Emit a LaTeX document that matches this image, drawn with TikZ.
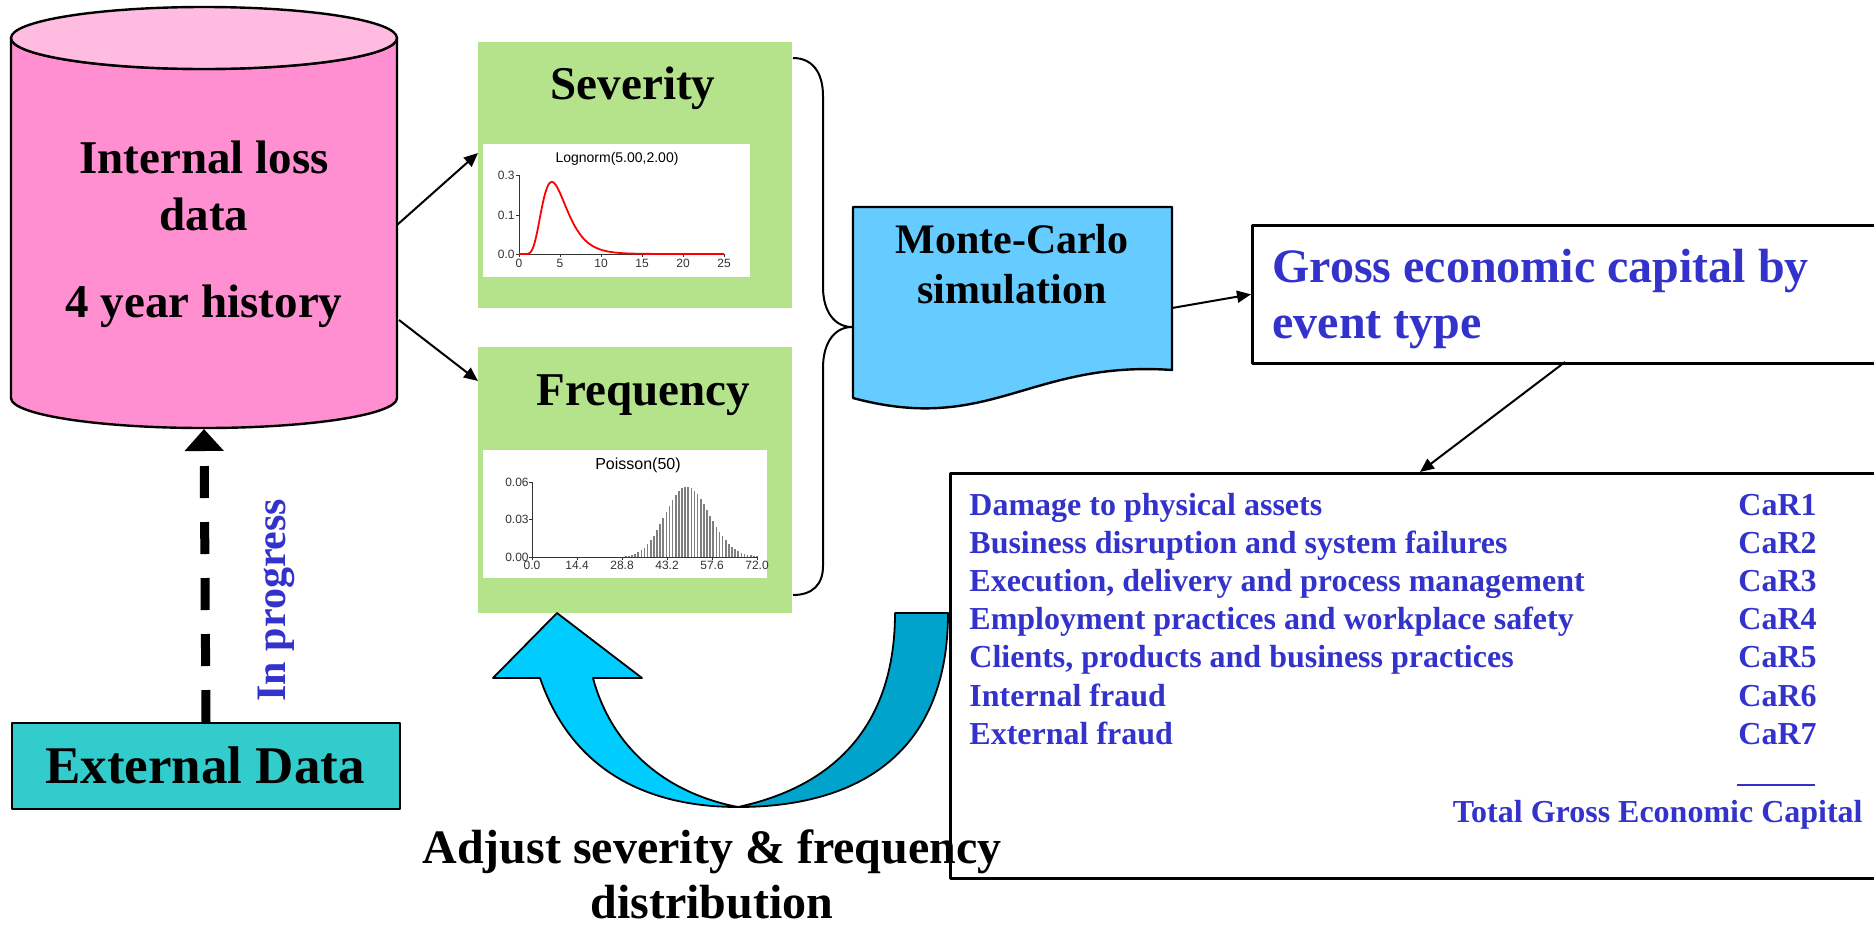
\documentclass[tikz,border=0pt]{standalone}
\usepackage{fontspec}
\setmainfont{Liberation Serif}
\newfontfamily\chartfont{Liberation Sans}
\usetikzlibrary{arrows.meta}

\definecolor{cylbody}{HTML}{FF8FD0}
\definecolor{cyltop}{HTML}{FFBCE0}
\definecolor{distgreen}{HTML}{B4E38C}
\definecolor{mcblue}{HTML}{66CCFF}
\definecolor{extteal}{HTML}{33CCCC}
\definecolor{eventblue}{HTML}{3333CC}
\definecolor{turnlight}{HTML}{00CCFF}
\definecolor{turndark}{HTML}{00A3CC}
\definecolor{bargray}{HTML}{7F7F7F}
\definecolor{axisgray}{HTML}{333333}

% bold serif at a given size (pt)
\newcommand\bfat[1]{\fontsize{#1}{#1}\selectfont\bfseries}
% small sans for the chart annotations
\newcommand\chartat[1]{\chartfont\fontsize{#1}{#1}\selectfont}

\tikzset{
  lbl/.style={inner sep=0pt, anchor=base},
  lblw/.style={inner sep=0pt, anchor=base west},
  lble/.style={inner sep=0pt, anchor=base east},
  connector/.style={line width=1pt, -{Triangle[length=7pt,width=6pt]}},
  bracepath/.style={line width=1pt},
  greenbox/.style={fill=distgreen, inner sep=0pt, anchor=north west,
                   minimum width=157pt, minimum height=133pt},
  chartbg/.style={fill=white, inner sep=0pt, anchor=north west},
  chartaxis/.style={axisgray, line width=0.5pt},
  ticklbl/.style={inner sep=0pt, text=axisgray, font=\chartat{6}},
  eventrow/.style={lblw, text=eventblue, font=\bfat{16}},
  carrow/.style={lblw, text=eventblue, font=\bfat{16}},
  poissonbar/.style={bargray, line width=0.8pt},
}

\begin{document}
\begin{tikzpicture}[x=0.5pt, y=-0.5pt, line join=round]
\useasboundingbox (0,0) rectangle (1874,927);

% ---------- internal loss data cylinder ----------
\draw[fill=cylbody, line width=1.2pt]
  (11,38) -- (11,398) arc[start angle=180, end angle=0, x radius=193, y radius=30]
  -- (397,38) arc[start angle=0, end angle=180, x radius=193, y radius=31] -- cycle;
\draw[fill=cyltop, line width=1.2pt] (204,38) ellipse[x radius=193, y radius=31];
\node[lbl, font=\bfat{23.5}] (cyl1) at (204,173) {Internal loss};
\node[lbl, font=\bfat{23.5}] (cyl2) at (204,230) {data};
\node[lbl, font=\bfat{23.5}] (cyl3) at (204,317) {4 year history};
\coordinate (cylOut1) at (397,225);
\coordinate (cylOut2) at (399,320);
\coordinate (cylBase) at (204,429);

% ---------- severity and frequency panels ----------
\node[greenbox] (sev) at (478,42) {};
\node[greenbox] (freq) at (478,347) {};
\node[lbl, font=\bfat{23.5}] (sevlabel) at (633,99) {Severity};
\node[lbl, font=\bfat{23.5}] (freqlabel) at (643,405) {Frequency};
\coordinate (sevIn) at (478,153);
\coordinate (freqIn) at (478,381);

% lognormal chart
\node[chartbg, minimum width=133.5pt, minimum height=66.5pt] (sevchart) at (483,144) {};
\node[lbl, font=\chartat{7}] (sevtitle) at (617,162) {Lognorm(5.00,2.00)};
\draw[chartaxis] (519,175) -- (519,254) -- (725,254);
\foreach \v/\yy in {0.3/175, 0.1/215, 0.0/254}{
  \draw[chartaxis] (516,\yy) -- (519,\yy);
  \node[ticklbl, anchor=base east] at (515,\yy+4) {\v};
}
\foreach \i in {0,...,5}{
  \draw[chartaxis] ({519+41*\i},254) -- ({519+41*\i},257);
  \pgfmathtruncatemacro\lab{5*\i}
  \node[ticklbl, anchor=base] at ({519+41*\i},267) {\lab};
}
\draw[red, line width=0.9pt] (519,254) -- (527,254)
  -- plot[domain=1:25, samples=140, smooth]
     ({519+8.2*\x}, {254-300*exp(-(ln(\x)-1.53523)^2/0.29684)/(\x*0.96570)});

% Poisson chart
\node[chartbg, minimum width=142pt, minimum height=64pt] (freqchart) at (483,450) {};
\node[lbl, font=\chartat{8}] (freqtitle) at (638,469) {Poisson(50)};
\def\pk{0.056325}
\foreach \k in {50,49,...,24}{
  \draw[poissonbar] ({532+3.125*\k},557) -- ({532+3.125*\k},{557-1250*\pk});
  \pgfmathsetmacro\pnew{\pk*\k/50}
  \xdef\pk{\pnew}
}
\def\pk{0.056325}
\foreach \k in {51,...,72}{
  \pgfmathsetmacro\pnew{\pk*50/\k}
  \xdef\pk{\pnew}
  \draw[poissonbar] ({532+3.125*\k},557) -- ({532+3.125*\k},{557-1250*\pk});
}
\draw[chartaxis] (532,482) -- (532,557) -- (757,557);
\foreach \v/\yy in {0.06/482, 0.03/519.5, 0.00/557}{
  \draw[chartaxis] (529,\yy) -- (532,\yy);
  \node[ticklbl, anchor=base east] at (529,\yy+4) {\v};
}
\foreach \v [count=\i from 0] in {0.0,14.4,28.8,43.2,57.6,72.0}{
  \draw[chartaxis] ({532+45*\i},557) -- ({532+45*\i},560);
  \node[ticklbl, anchor=base] at ({532+45*\i},569) {\v};
}

% arrows from the loss data to both distributions
\draw[connector] (cylOut1) -- (sevIn);
\draw[connector] (cylOut2) -- (freqIn);

% ---------- brace joining the two panels ----------
\coordinate (braceTop) at (793,58);
\coordinate (braceTip) at (852,327);
\coordinate (braceBot) at (793,595);
\draw[bracepath] (braceTop) .. controls (812,58) and (823,72) .. (823,96)
  -- (823,287) .. controls (823,312) and (835,327) .. (braceTip)
  .. controls (835,327) and (823,342) .. (823,368)
  -- (823,566) .. controls (823,585) and (812,595) .. (braceBot);

% ---------- Monte-Carlo simulation document ----------
\draw[fill=mcblue, line width=1.2pt]
  (853,207) -- (1172,207) -- (1172,370)
  .. controls (1030,360) and (990,435) .. (853,398) -- cycle;
\node[lbl, font=\bfat{21}] (mc1) at (1012,253) {Monte-Carlo};
\node[lbl, font=\bfat{21}] (mc2) at (1012,303) {simulation};
\coordinate (mcOut) at (1172,308);

% ---------- gross economic capital ----------
\node[draw, line width=1.3pt, inner sep=0pt, anchor=north west,
      minimum width=319.5pt, minimum height=69pt] (grossbox) at (1251,224) {};
\node[lblw, text=eventblue, font=\bfat{24}] (gross1) at (1272,282) {Gross economic capital by};
\node[lblw, text=eventblue, font=\bfat{24}] (gross2) at (1272,338) {event type};
\draw[connector] (mcOut) -- (grossbox.west);

% ---------- capital at risk by event type ----------
\node[draw, line width=1.3pt, inner sep=0pt, anchor=north west,
      minimum width=470.5pt, minimum height=202.5pt] (listbox) at (949,472) {};
\foreach \txt [count=\i from 0] in {
    Damage to physical assets,
    Business disruption and system failures,
    {Execution, delivery and process management},
    Employment practices and workplace safety,
    {Clients, products and business practices},
    Internal fraud,
    External fraud}{
  \node[eventrow] (row\i) at (969,{515+38.2*\i}) {\txt};
  \pgfmathtruncatemacro\n{\i+1}
  \node[carrow] (car\i) at (1738,{515+38.2*\i}) {CaR\n};
}
\draw[eventblue, line width=1pt] (1737,785) -- (1815,785);
\node[lble, text=eventblue, font=\bfat{16}] (total) at (1863,822) {Total Gross Economic Capital};
\coordinate (grossOut) at (1565,362);
\coordinate (listIn) at (1420,472);
\draw[connector] (grossOut) -- (listIn);

% ---------- feedback U-turn arrow ----------
\draw[fill=turndark, line width=0.9pt]
  (895,613) -- (948,613) .. controls (948,760) and (850,807) .. (738,807)
  .. controls (840,785) and (895,720) .. (895,613) -- cycle;
\draw[fill=turnlight, line width=0.9pt]
  (540,678) .. controls (570,765) and (640,807) .. (738,807)
  .. controls (660,792) and (610,742) .. (593,678)
  -- (642,678) -- (557,613) -- (493,678) -- cycle;

% ---------- external data ----------
\node[draw, fill=extteal, line width=1pt, inner sep=0pt, anchor=north west,
      minimum width=194pt, minimum height=43pt] (ext) at (11,722) {};
\node[lbl, font=\bfat{26.5}] (extlabel) at (205,783) {External Data};
\draw[line width=4.5pt, dash pattern=on 16pt off 12pt,
      -{Triangle[length=11pt,width=19pt]}] (ext.north) -- (cylBase);
\node[inner sep=0pt, rotate=90, text=eventblue, font=\bfat{21}] (progress) at (276,600) {In progress};

% ---------- adjustment caption ----------
\node[lbl, font=\bfat{24}] (adjust1) at (712,863) {Adjust severity \& frequency};
\node[lbl, font=\bfat{24}] (adjust2) at (712,918) {distribution};

\end{tikzpicture}
\end{document}
